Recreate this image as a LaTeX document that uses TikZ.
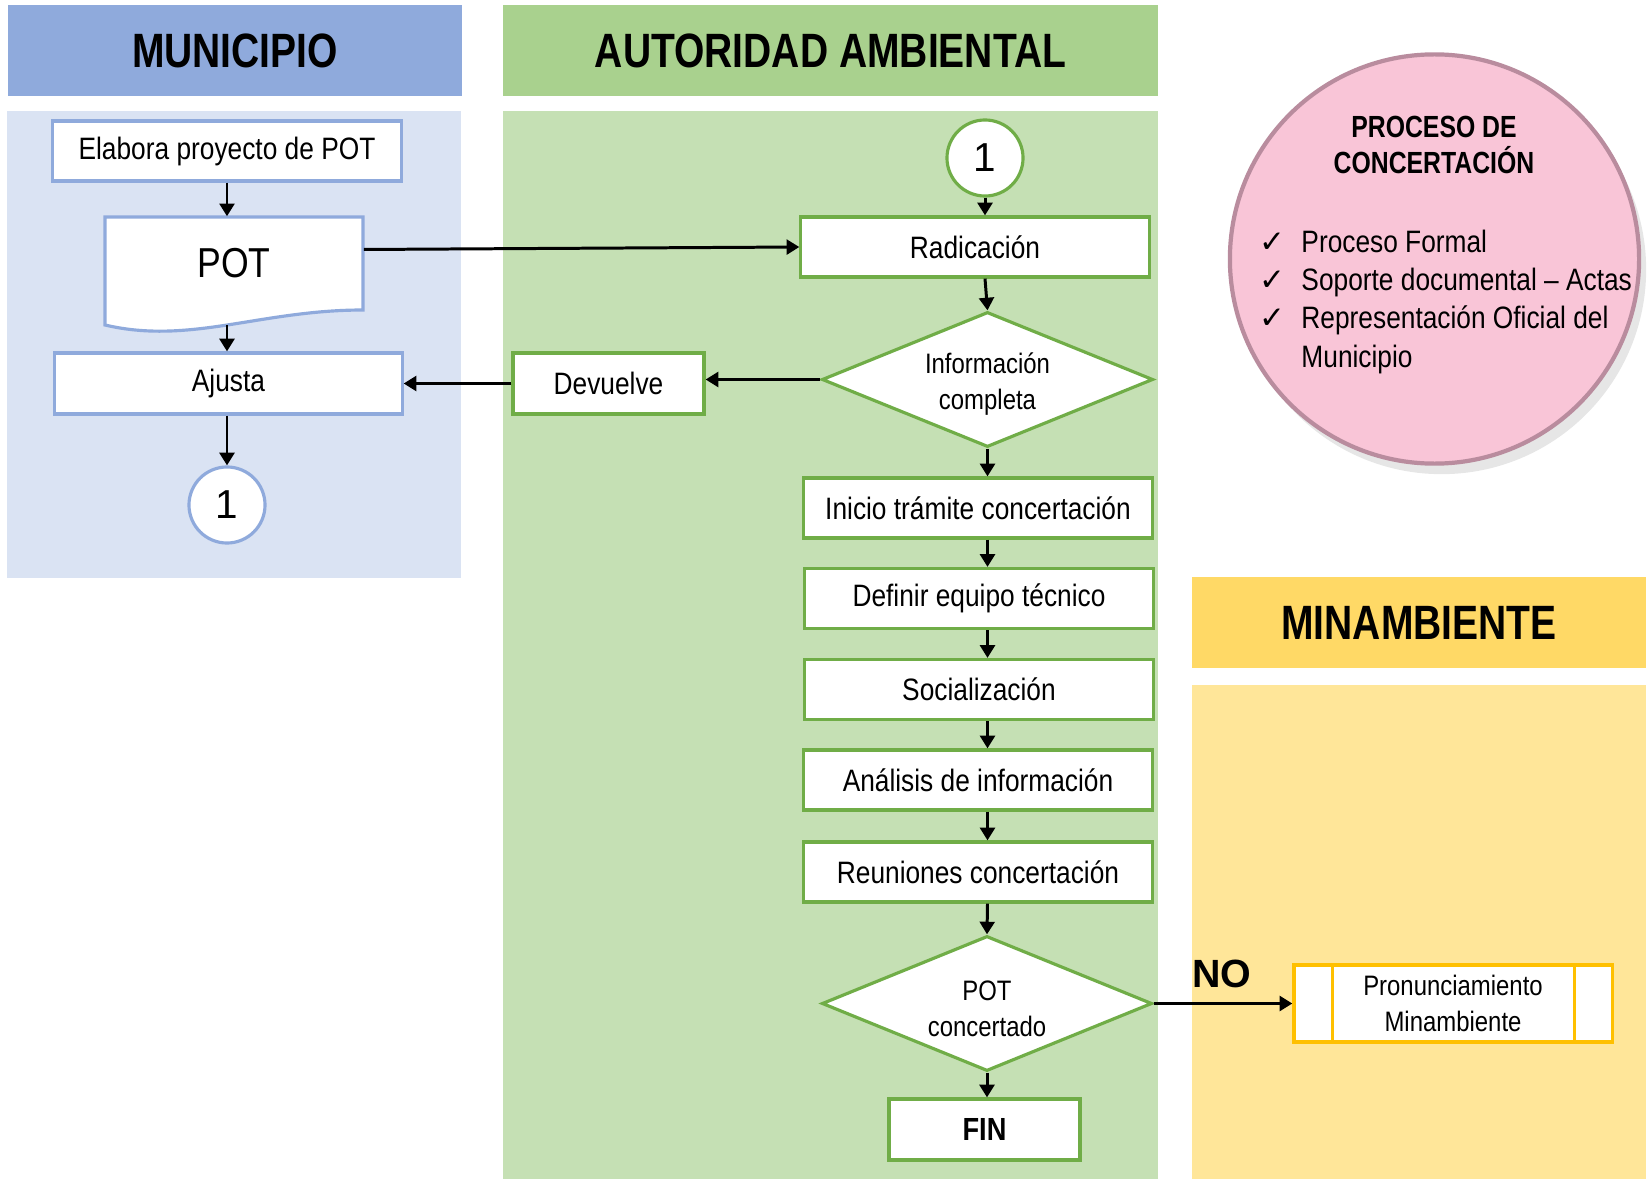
\documentclass[tikz,border=0pt]{standalone}
\usepackage{fontspec}
\setmainfont{Liberation Sans}[FakeStretch=0.85]
\newfontfamily\anchafont{Liberation Sans}
\newfontfamily\titfont{Liberation Sans}[FakeStretch=0.81]
\newfontfamily\simbfont{DejaVu Sans}
\usetikzlibrary{arrows.meta,shapes.geometric,shadows}

\definecolor{munihead}{HTML}{8FAADC}
\definecolor{munibody}{HTML}{DAE3F3}
\definecolor{muniline}{HTML}{8FAADC}
\definecolor{ambhead}{HTML}{A9D18E}
\definecolor{ambbody}{HTML}{C5E0B4}
\definecolor{ambline}{HTML}{70AD47}
\definecolor{minhead}{HTML}{FFD966}
\definecolor{minbody}{HTML}{FFE699}
\definecolor{minline}{HTML}{FFC000}
\definecolor{concfill}{HTML}{F9C5D7}
\definecolor{concedge}{HTML}{B98C9E}

\tikzset{
  caja/.style={draw, fill=white, line width=0.9pt, inner sep=0pt, minimum height=0.6cm, align=center, font=\fontsize{8.8}{10.2}\selectfont},
  cajamuni/.style={caja, draw=muniline},
  cajaamb/.style={caja, draw=ambline},
  decision/.style={diamond, aspect=2.45, draw=ambline, fill=white, line width=0.9pt, inner sep=0pt, align=center, minimum width=3.31cm, minimum height=1.35cm, font=\fontsize{8}{10.2}\selectfont},
  conector/.style={circle, fill=white, line width=0.9pt, inner sep=0pt, minimum size=0.76cm, font=\anchafont\fontsize{11.5}{12}\selectfont},
  titulo/.style={inner sep=0pt, minimum height=0.91cm, minimum width=4.54cm, font=\titfont\bfseries\fontsize{13.7}{15}\selectfont},
  flecha/.style={line width=0.85pt, -{Triangle[length=3.6pt,width=4.2pt]}},
}

\begin{document}
\begin{tikzpicture}[x=0.01cm, y=-0.01cm]
\useasboundingbox (0,0) rectangle (1648,1179);

% carriles
\fill[munibody] (7,111) rectangle (461,578);
\fill[ambbody] (503,111) rectangle (1158,1179);
\fill[minbody] (1192,685) rectangle (1646,1179);
\node[titulo, fill=munihead] (hmuni) at (235,50.5) {MUNICIPIO};
\node[titulo, fill=ambhead, minimum width=6.55cm] (hamb) at (830.5,50.5) {AUTORIDAD AMBIENTAL};
\node[titulo, fill=minhead] (hmin) at (1419,622.5) {MINAMBIENTE};

% municipio
\node[cajamuni, minimum width=3.48cm] (elab) at (227,151) {Elabora proyecto de POT};
\draw[muniline, line width=0.9pt, fill=white] (105,217) -- (363,217) -- (363,310) .. controls (260,310) and (190,345) .. (105,325) -- cycle;
\node[inner sep=0pt, minimum width=2.58cm, minimum height=0.93cm, font=\fontsize{11.9}{13}\selectfont] (pot) at (234,263.5) {POT};
\coordinate (potw) at (227,325);
\node[cajamuni, minimum width=3.47cm, minimum height=0.61cm] (aju) at (228.5,383.5) {Ajusta};
\node[conector, draw=muniline] (c1l) at (227,505) {1};

% autoridad ambiental
\node[conector, draw=ambline] (c1r) at (985,158) {1};
\node[cajaamb, minimum width=3.48cm] (rad) at (975,247) {Radicación};
\node[decision] (dec1) at (987.5,379.5) {\rule{0pt}{8.5pt}Información\\completa};
\node[cajaamb, minimum width=1.91cm, minimum height=0.61cm] (dev) at (608.5,383.5) {Devuelve};
\node[cajaamb, minimum width=3.48cm] (ini) at (978,508) {Inicio trámite concertación};
\node[cajaamb, minimum width=3.48cm] (def) at (979,598.5) {Definir equipo técnico};
\node[cajaamb, minimum width=3.48cm] (soc) at (979,689.5) {Socialización};
\node[cajaamb, minimum width=3.48cm] (ana) at (978,780) {Análisis de información};
\node[cajaamb, minimum width=3.48cm] (reu) at (978,872) {Reuniones concertación};
\node[decision, minimum width=3.30cm] (dec2) at (987,1003.5) {\rule{0pt}{8.5pt}POT\\concertado};
\node[cajaamb, minimum width=1.91cm, minimum height=0.61cm, font=\bfseries\fontsize{9.1}{10}\selectfont] (fin) at (984.5,1129.5) {FIN};

% minambiente
\node[caja, draw=minline, minimum width=3.18cm, minimum height=0.77cm, font=\fontsize{8}{10.2}\selectfont] (pron) at (1453,1003.5) {Pronunciamiento\\Minambiente};
\draw[minline, line width=0.9pt] ([xshift=0.4cm]pron.north west) -- ([xshift=0.4cm]pron.south west);
\draw[minline, line width=0.9pt] ([xshift=-0.39cm]pron.north east) -- ([xshift=-0.39cm]pron.south east);
\node[font=\anchafont\bfseries\fontsize{11.2}{12}\selectfont] (no) at (1222,974) {NO};

% proceso de concertacion
\node[circle, minimum size=4.09cm, fill=concfill, draw=concedge, line width=1.2pt,
  drop shadow={shadow xshift=2pt, shadow yshift=-3pt, opacity=0.2}] (conc) at (1434.5,259) {};
\node[align=center, inner sep=0pt, font=\titfont\bfseries\fontsize{8.7}{10.2}\selectfont] (tit) at (1434,145) {PROCESO DE\\CONCERTACIÓN};
\node[anchor=west, inner sep=0pt, font=\fontsize{8.8}{10.9}\selectfont] (lista) at (1259,302) {%
\begin{tabular}{@{}l@{\hspace{4.5pt}}l@{}}
{\simbfont ✓} & Proceso Formal\\
{\simbfont ✓} & Soporte documental – Actas\\
{\simbfont ✓} & Representación Oficial del\\
 & Municipio
\end{tabular}};

% conectores
\draw[flecha] (elab.south) -- (elab.south |- pot.north);
\draw[flecha] (potw) -- (potw |- aju.north);
\draw[flecha] (aju.south -| c1l) -- (c1l.north);
\draw[flecha] ([yshift=0.14cm]pot.east) -- (rad.west);
\draw[flecha] (c1r) -- (c1r |- rad.north);
\draw[flecha] (c1r |- rad.south) -- (dec1.north);
\draw[flecha] (dec1.south) -- (dec1.south |- ini.north);
\foreach \a/\b in {ini/def, def/soc, soc/ana, ana/reu}
  \draw[flecha] (\a.south -| dec1) -- (\b.north -| dec1);
\draw[flecha] (reu.south -| dec1) -- (dec2.north);
\draw[flecha] (dec2.south) -- (dec2.south |- fin.north);
\draw[flecha] (dec2.east) -- (pron.west);
\draw[flecha] (dec1.west) -- (dec1.west -| dev.east);
\draw[flecha] (dev.west) -- (aju.east);
\end{tikzpicture}
\end{document}
